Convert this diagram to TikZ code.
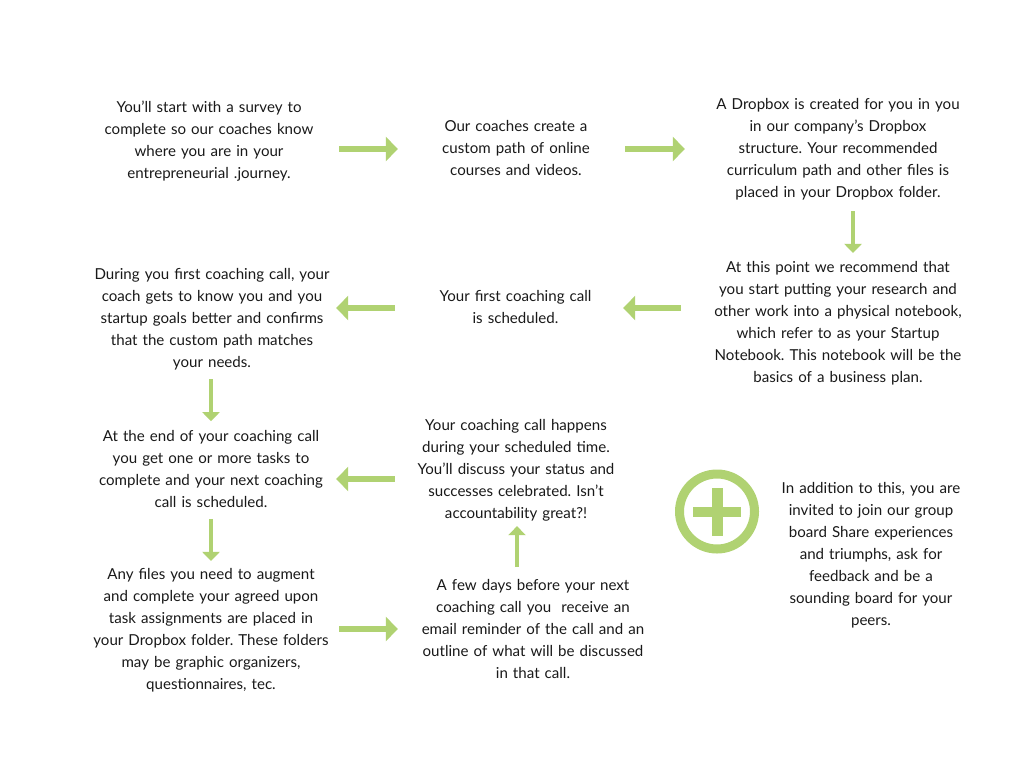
\documentclass[tikz,border=0pt]{standalone}
\usepackage{fontspec}
\setmainfont{Lato}
\usetikzlibrary{arrows.meta}
\definecolor{leaf}{HTML}{B0D272}

\begin{document}
\frenchspacing
\begin{tikzpicture}[x=1pt, y=-1pt,
			step text/.style={inner sep=0pt, align=center, text=black!90, font=\fontsize{15.1}{22}\selectfont},
			wide arrow/.style={draw=leaf, line width=6pt, -{Triangle[length=12pt, width=24pt]}},
			thin arrow/.style={draw=leaf, line width=4.5pt, -{Triangle[length=9pt, width=17pt]}}]
		\useasboundingbox (0,0) rectangle (1024,768);

		\node (survey) [step text, text width=260pt] at (209,141) {You'll start with a survey to\\ complete so our coaches know\\ where you are in your\\ entrepreneurial .journey.};
		\node (path) [step text, text width=236pt] at (516,148) {Our coaches create a\\ custom path of online\\ courses and videos.};
		\node (dropbox) [step text, text width=306pt] at (838,149) {A Dropbox is created for you in you\\ in our company's Dropbox\\ structure. Your recommended\\ curriculum path and other files is\\ placed in your Dropbox folder.};
		\node (notebook) [step text, text width=314pt] at (838,323) {At this point we recommend that\\ you start putting your research and\\ other work into a physical notebook,\\ which refer to as your Startup\\ Notebook. This notebook will be the\\ basics of a business plan.};
		\node (scheduled) [step text, text width=215pt] at (515.5,307) {Your first coaching call\\ is scheduled.};
		\node (firstcall) [step text, text width=248pt] at (212,319) {During you first coaching call, your\\ coach gets to know you and you\\ startup goals better and confirms\\ that the custom path matches\\ your needs.};
		\node (tasks) [step text, text width=250pt] at (211,469) {At the end of your coaching call\\ you get one or more tasks to\\ complete and your next coaching\\ call is scheduled.};
		\node (happens) [step text, text width=242pt] at (516,470) {Your coaching call happens\\ during your scheduled time.\\ You'll discuss your status and\\ successes celebrated. Isn't\\ accountability great?!};
		\node (files) [step text, text width=250pt] at (211,630) {Any files you need to augment\\ and complete your agreed upon\\ task assignments are placed in\\ your Dropbox folder. These folders\\ may be graphic organizers,\\ questionnaires, tec.};
		\node (reminder) [step text, text width=270pt] at (533,629) {A few days before your next\\ coaching call you\ \ receive an\\ email reminder of the call and an\\ outline of what will be discussed\\ in that call.};
		\node (addition) [step text, text width=190pt] at (871,555) {In addition to this, you are\\ invited to join our group\\ board Share experiences\\ and triumphs, ask for\\ feedback and be a\\ sounding board for your\\ peers.};

		\node (plus) [circle, draw=leaf, line width=9pt, minimum size=75pt, inner sep=0pt] at (717,511.5) {};
		\fill [leaf] ([xshift=-24pt, yshift=-5pt]plus.center) rectangle ([xshift=24pt, yshift=5pt]plus.center);
		\fill [leaf] ([xshift=-5.5pt, yshift=-24pt]plus.center) rectangle ([xshift=5.5pt, yshift=24pt]plus.center);

		\draw [wide arrow] ([yshift=-1pt]survey.east |- path.west) -- ([yshift=-1pt]path.west);
		\draw [wide arrow, shorten <=-9pt] ([yshift=-1pt]path.east) -- ([yshift=0pt]dropbox.west);
		\draw [thin arrow, shorten <=11pt, shorten >=8pt] ([xshift=15pt]dropbox.south) -- ([xshift=15pt]notebook.north);
		\draw [wide arrow] ([yshift=-1pt]notebook.west |- scheduled.east) -- ([yshift=-1pt]scheduled.east);
		\draw [wide arrow, shorten <=13pt] ([yshift=-1pt]scheduled.west) -- ([yshift=-1pt]firstcall.east |- scheduled.west);
		\draw [thin arrow, shorten <=9pt, shorten >=9pt] (firstcall.south -| tasks.north) -- (tasks.north);
		\draw [wide arrow] ([yshift=-9pt]happens.west) -- ([yshift=-9pt]tasks.east |- happens.west);
		\draw [thin arrow, shorten <=11pt, shorten >=7pt] (tasks.south) -- (files.north);
		\draw [wide arrow, shorten <=3pt] (reminder.west -| files.east) -- (reminder.west);
		\draw [thin arrow, shorten <=12pt, shorten >=5pt] ([xshift=1pt]reminder.north -| happens.south) -- ([xshift=1pt]happens.south);
	\end{tikzpicture}
\end{document}
